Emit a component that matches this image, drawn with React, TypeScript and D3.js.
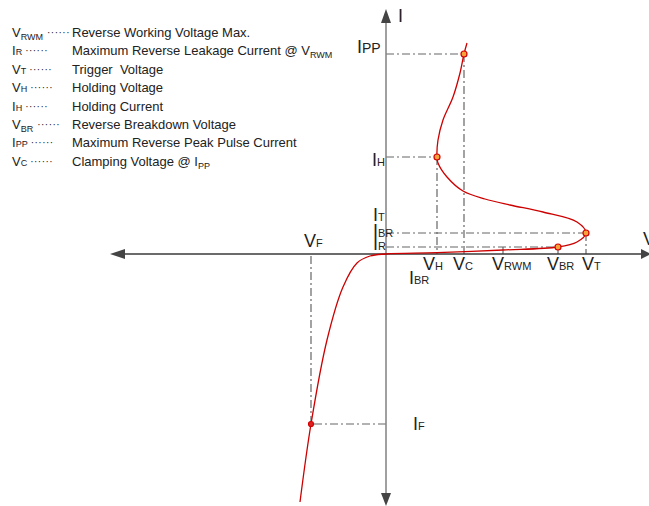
import React from 'react';
import * as d3 from 'd3';

// I-V curve of the TVS diode (V, I in arbitrary units)
const curveV = [-8.6, -7.5, -5.9, -4.3, -2.9, -1.6, 0, 5.1, 11.7, 17.2, 19.1, 20.0, 19.1, 15.7, 12.4, 9.9, 7.7, 6.1, 5.2, 5.1, 5.2, 5.7, 6.7, 7.4, 7.8, 8.1];
const curveI = [-24.8, -17.0, -8.6, -3.3, -0.9, -0.2, 0, 0.13, 0.4, 0.7, 1.2, 2.1, 3.2, 4.2, 4.9, 5.5, 6.3, 7.7, 9.1, 9.7, 11.4, 13.4, 15.7, 18.1, 20.0, 21.1];

// marked operating points
const pointNames = ['IPP', 'IH', 'IBR', 'IR', 'IF'];
const pointV = [7.8, 5.1, 20.0, 17.2, -7.5];
const pointI = [20.0, 9.7, 2.1, 0.7, -17.0];
const vrwm = 11.7;

// legend
const legendMain = ['V', 'I', 'V', 'V', 'I', 'V', 'I', 'V'];
const legendSub = ['RWM', 'R', 'T', 'H', 'H', 'BR', 'PP', 'C'];
const legendLowered = [true, false, false, false, false, true, false, false];
const legendDesc = [
  'Reverse Working Voltage Max.',
  'Maximum Reverse Leakage Current @ ',
  'Trigger  Voltage',
  'Holding Voltage',
  'Holding Current',
  'Reverse Breakdown Voltage',
  'Maximum Reverse Peak Pulse Current',
  'Clamping Voltage @ ',
];
const legendDescSub = ['', 'RWM', '', '', '', '', '', 'PP'];

// axis annotations: [main, sub, V, I]
const axisLabels: [string, string, number, number][] = [
  ['I', 'PP', -2.9, 20.1],
  ['I', 'H', -1.4, 8.8],
  ['I', 'T', -1.3, 3.3],
  ['I', 'BR', -1.3, 1.7],
  ['I', 'R', -1.3, 0.4],
  ['V', 'H', 3.7, -1.6],
  ['V', 'C', 6.7, -1.6],
  ['V', 'RWM', 10.6, -1.6],
  ['V', 'BR', 16.1, -1.6],
  ['V', 'T', 19.6, -1.6],
  ['I', 'BR', 2.3, -3.0],
  ['V', 'F', -8.2, 0.7],
  ['I', 'F', 2.7, -17.6],
  ['I', '', 1.2, 23.2],
  ['V', '', 25.7, 0.9],
];

const W = 649;
const H = 506;
const font = 'Arial, "Liberation Sans", sans-serif';

const App = () => {
  const x = d3.scaleLinear().domain([-27.4, 26.3]).range([112, 649]);
  const y = d3.scaleLinear().domain([-25.1, 24.4]).range([505, 10]);

  const line = d3.line<number>()
    .x(i => x(curveV[i]))
    .y(i => y(curveI[i]))
    .curve(d3.curveCatmullRom.alpha(0.5));
  const path = line(curveV.map((_, i) => i)) || '';

  const x0 = x(0);
  const y0 = y(0);
  const dash = '8,3,2,3';
  const legendStep = 18.4;

  return (
    <svg width={W} height={H} style={{ position: 'absolute', left: 0, top: 0, background: '#fff' }}
      fontFamily={font}>
      {/* legend */}
      {legendMain.map((m, i) => (
        <g key={'lg' + i}>
          <text x={12} y={37 + i * legendStep} fontSize={13} fill="#222">
            {m}
            <tspan fontSize={9} dy={legendLowered[i] ? 3 : 0}>{legendSub[i]}</tspan>
            <tspan fontSize={10} dx={legendLowered[i] ? 4 : 3} dy={legendLowered[i] ? -4 : -1} letterSpacing={0.5}>{'······'}</tspan>
          </text>
          <text x={72} y={37 + i * legendStep} fontSize={13} fill="#222" style={{ whiteSpace: 'pre' }}>
            {legendDesc[i]}
            {legendDescSub[i] && (<>
              <tspan>{legendDescSub[i] === 'RWM' ? 'V' : 'I'}</tspan>
              <tspan fontSize={9} dy={3}>{legendDescSub[i]}</tspan>
            </>)}
          </text>
        </g>
      ))}

      {/* dash-dot guide lines */}
      {pointNames.map((n, i) => (
        <g key={'gd' + n} stroke="#666" strokeWidth={1.2} strokeDasharray={dash} fill="none">
          <line x1={x0} x2={x(pointV[i])} y1={y(pointI[i])} y2={y(pointI[i])} />
          <line x1={x(pointV[i])} x2={x(pointV[i])} y1={y(pointI[i])} y2={y0} />
        </g>
      ))}
      <line x1={x(vrwm)} x2={x(vrwm)} y1={y(pointI[3])} y2={y0} stroke="#666" strokeWidth={1.2} />

      {/* axes */}
      <line x1={x0} x2={x0} y1={18} y2={498} stroke="#808080" strokeWidth={1.5} />
      <line x1={120} x2={645} y1={y0} y2={y0} stroke="#3a3a3a" strokeWidth={1.3} />
      <path d={`M${x0},9 L${x0 - 5},23 L${x0 + 5},23 Z`} fill="#444" />
      <path d={`M${x0},506 L${x0 - 5},493 L${x0 + 5},493 Z`} fill="#444" />
      <path d={`M110,${y0} L125,${y0 - 5} L125,${y0 + 5} Z`} fill="#444" />
      <path d={`M651,${y0} L641,${y0 - 5} L641,${y0 + 5} Z`} fill="#444" />

      {/* curve */}
      <path d={path} fill="none" stroke="#cc0000" strokeWidth={1.3} />

      {/* markers */}
      {pointNames.map((n, i) => (
        <circle key={'pt' + n} cx={x(pointV[i])} cy={y(pointI[i])} r={n === 'IF' ? 2.5 : 3}
          fill={n === 'IF' ? '#dd2222' : '#f6a23a'} stroke="#d40000" strokeWidth={1.2} />
      ))}

      {/* axis labels */}
      {axisLabels.map(([m, s, v, c], i) => (
        <text key={'al' + i} x={x(v)} y={y(c)} fontSize={18} fill="#222">
          {m}
          {s && <tspan fontSize={m === 'I' && s === 'PP' ? 14 : 11}>{s}</tspan>}
        </text>
      ))}
    </svg>
  );
};

export default App;
